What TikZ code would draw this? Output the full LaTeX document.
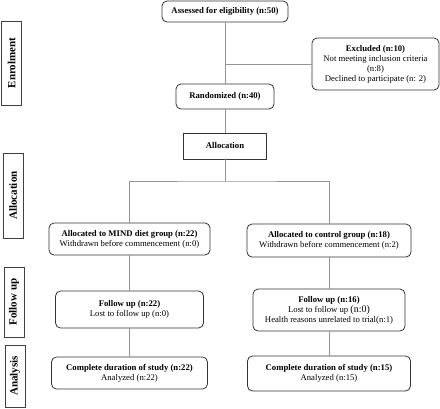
\documentclass[tikz,border=0pt]{standalone}
\usepackage{fontspec}
\setmainfont{Liberation Serif}
\usepackage{tikz}
\usetikzlibrary{positioning}

\begin{document}
\begin{tikzpicture}[x=1pt,y=-1pt,
		box/.style={
		  draw=black!80,
		  line width=0.8pt,
		  rounded corners=5pt,
		  align=center,
		  inner sep=0pt,
		  font=\fontsize{8.7}{10}\selectfont
		},
		plain/.style={
		  draw=black!80,
		  line width=0.8pt,
		  align=center,
		  inner sep=0pt,
		  font=\fontsize{8.7}{10}\selectfont\bfseries
		},
		side/.style={
		  draw=black!75,
		  line width=0.8pt,
		  inner sep=0pt,
		  minimum width=20pt,
		  font=\fontsize{11}{13}\selectfont\bfseries
		},
		link/.style={
		  draw=black!42,
		  line width=0.8pt
		}
		]
		\useasboundingbox (0,0) rectangle (440,408);

		% stage labels
		\node[side,minimum height=84pt] (enrol) at (11.5,63) {\rotatebox{90}{Enrolment}};
		\node[side,minimum height=85pt] (allocside) at (13,195.5) {\rotatebox{90}{Allocation}};
		\node[side,minimum height=70pt] (followside) at (14,302) {\rotatebox{90}{Follow up}};
		\node[side,minimum height=62pt] (analysisside) at (15,376) {\rotatebox{90}{Analysis}};

		% main column
		\node[box,minimum width=126pt,minimum height=21pt] (assessed) at (225,11.5)
		  {\textbf{Assessed for eligibility (n:50)}};
		\node[box,minimum width=127pt,minimum height=52pt] (excluded) at (375.5,64)
		  {\textbf{Excluded (n:10)}\\Not meeting inclusion criteria\\(n:8)\\Declined to participate (n: 2)};
		\node[box,minimum width=98pt,minimum height=25pt] (random) at (225,96.5)
		  {\textbf{Randomized (n:40)}};
		\node[plain,minimum width=83pt,minimum height=26pt] (alloc) at (225,146)
		  {Allocation};
		\coordinate (split) at (225,181);

		% two arms
		\node[box,minimum width=161pt,minimum height=32pt] (mind) at (129.5,239)
		  {\textbf{Allocated to MIND diet group (n:22)}\\Withdrawn before commencement (n:0)};
		\node[box,minimum width=164pt,minimum height=33pt] (control) at (329,240.5)
		  {\textbf{Allocated to control group (n:18)}\\Withdrawn before commencement (n:2)};
		\node[box,minimum width=148pt,minimum height=37pt] (fumind) at (129.5,309.5)
		  {\textbf{Follow up (n:22)}\\Lost to follow up (n:0)};
		\node[box,minimum width=152pt,minimum height=42pt] (fucontrol) at (329,310)
		  {\textbf{Follow up (n:16)}\\Lost to follow up {\fontsize{10}{10}\selectfont(n:0)}\\Health reasons unrelated to trial(n:1)};
		\node[box,minimum width=156pt,minimum height=32pt] (anmind) at (129.5,373)
		  {\textbf{Complete duration of study (n:22)}\\Analyzed (n:22)};
		\node[box,minimum width=163pt,minimum height=35pt] (ancontrol) at (329,373.5)
		  {\textbf{Complete duration of study (n:15)}\\Analyzed (n:15)};

		\draw[link] (assessed) -- (random);
		\draw[link] (assessed.south |- excluded.west) -- (excluded.west);
		\draw[link] (random) -- (alloc);
		\draw[link] (alloc) -- (split);
		\draw[link] (mind.north) |- (split) -| (control.north);
		\draw[link] (mind) -- (fumind);
		\draw[link] (fumind) -- (anmind);
		\draw[link] (control) -- (fucontrol);
		\draw[link] (fucontrol) -- (ancontrol);
	\end{tikzpicture}
\end{document}
